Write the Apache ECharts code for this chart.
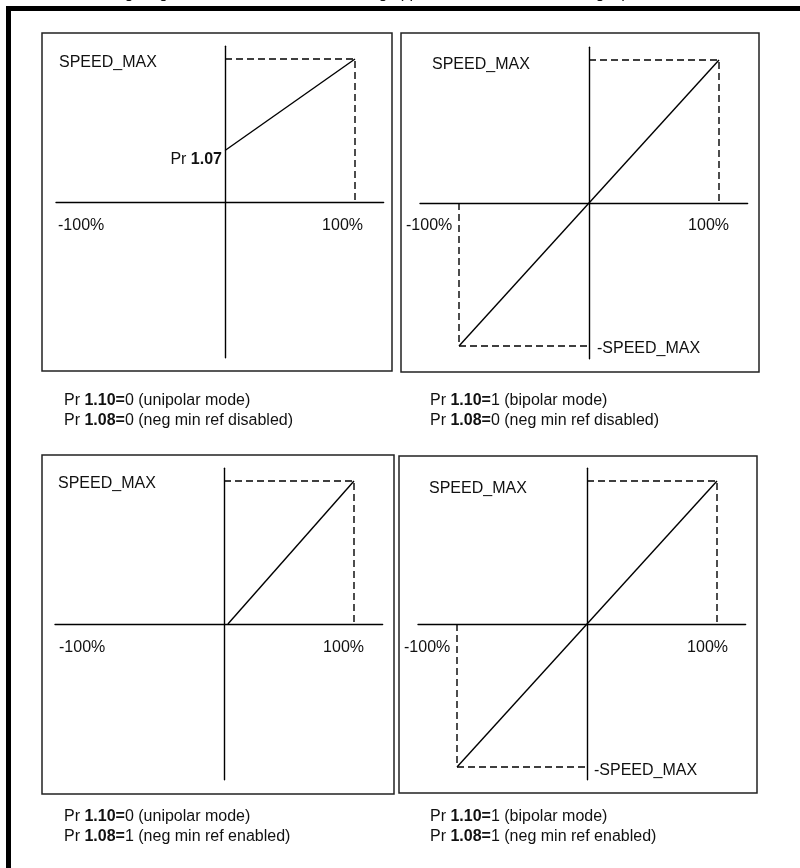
<!DOCTYPE html>
<html>
<head>
<meta charset="utf-8">
<script src="https://cdn.jsdelivr.net/npm/echarts@6/dist/echarts.min.js"></script>
<style>
html, body { margin: 0; padding: 0; background: #fff; }
#main { width: 800px; height: 868px; }
</style>
</head>
<body>
<div id="main"></div>
<script>
// reference lines, in fractions of 100% input / SPEED_MAX
var refUnipolarDisabled = [[0, 0.36], [1, 1]];
var refBipolarDisabled = [[-1, -1], [1, 1]];
var refUnipolarEnabled = [[0.03, 0], [1, 1]];
var refBipolarEnabled = [[-1, -1], [1, 1]];
var maxGuide = [[0, 1], [1, 1], [1, 0]];
var minGuide = [[-1, 0], [-1, -1], [0, -1]];

var xTickLabels = ['-100%', '100%'];
var yTickLabels = ['SPEED_MAX', '-SPEED_MAX'];
var minRefLabel = 'Pr {b|1.07}';
var captions = [
	['Pr {b|1.10=}0 (unipolar mode)', 'Pr {b|1.08=}0 (neg min ref disabled)'],
	['Pr {b|1.10=}1 (bipolar mode)', 'Pr {b|1.08=}0 (neg min ref disabled)'],
	['Pr {b|1.10=}0 (unipolar mode)', 'Pr {b|1.08=}1 (neg min ref enabled)'],
	['Pr {b|1.10=}1 (bipolar mode)', 'Pr {b|1.08=}1 (neg min ref enabled)']
];
var introText = 'The following diagrams show the effect of scaling applied when the drive analog input is used.';

var FONT = '"Liberation Sans", Arial, sans-serif';
var xUnit = 130, yUnit = 143;
var xMin = -1.3, xMax = 1.22, yMin = -1.09, yMax = 1.09;

// axis crossing point of each panel (pixels)
var origins = [[225, 202], [589, 203], [224, 624], [587, 624]];
var boxes = [[42, 33, 350, 338], [401, 33, 358, 339], [42, 455, 352, 339], [399, 456, 358, 337]];
var refs = [refUnipolarDisabled, refBipolarDisabled, refUnipolarEnabled, refBipolarEnabled];
var bipolar = [false, true, false, true];

var myChart = echarts.init(document.getElementById('main'), null, {renderer: 'canvas'});

var grids = [], xAxes = [], yAxes = [], series = [], graphics = [];

function txt(text, x, y, align, bold) {
	return {
		type: 'text',
		silent: true,
		style: {
			text: text, x: x, y: y,
			fontSize: 16, fontFamily: FONT,
			fontWeight: bold ? 'bold' : 'normal',
			fill: '#111',
			align: align || 'left', verticalAlign: 'middle',
			textAlign: align || 'left', textVerticalAlign: 'middle',
			rich: { b: { fontSize: 16, fontFamily: FONT, fontWeight: 'bold', fill: '#111' } }
		}
	};
}

origins.forEach(function(o, i) {
	grids.push({
		left: o[0] + xMin * xUnit,
		top: o[1] - yMax * yUnit,
		width: (xMax - xMin) * xUnit,
		height: (yMax - yMin) * yUnit
	});
	xAxes.push({
		gridIndex: i, type: 'value', min: xMin, max: xMax,
		axisLine: { show: true, onZero: true, lineStyle: { color: '#000', width: 1.4 } },
		axisTick: { show: false }, axisLabel: { show: false }, splitLine: { show: false }
	});
	yAxes.push({
		gridIndex: i, type: 'value', min: yMin, max: yMax,
		axisLine: { show: true, onZero: true, lineStyle: { color: '#000', width: 1.4 } },
		axisTick: { show: false }, axisLabel: { show: false }, splitLine: { show: false }
	});
	series.push({
		type: 'line', xAxisIndex: i, yAxisIndex: i, data: maxGuide,
		showSymbol: false, silent: true, z: 2,
		lineStyle: { color: '#000', width: 1.4, type: [7, 4] }
	});
	if (bipolar[i]) {
		series.push({
			type: 'line', xAxisIndex: i, yAxisIndex: i, data: minGuide,
			showSymbol: false, silent: true, z: 2,
			lineStyle: { color: '#000', width: 1.4, type: [7, 4] }
		});
	}
	series.push({
		type: 'line', xAxisIndex: i, yAxisIndex: i, data: refs[i],
		showSymbol: false, silent: true, z: 3,
		lineStyle: { color: '#000', width: 1.4 }
	});

	var b = boxes[i];
	graphics.push({
		type: 'rect', silent: true,
		shape: { x: b[0], y: b[1], width: b[2], height: b[3] },
		style: { fill: 'none', stroke: '#222', lineWidth: 1.5 }
	});
});

// panel texts
graphics.push(txt(yTickLabels[0], 59, 63));
graphics.push(txt(minRefLabel, 222, 160, 'right'));
graphics.push(txt(xTickLabels[0], 58, 226));
graphics.push(txt(xTickLabels[1], 363, 226, 'right'));

graphics.push(txt(yTickLabels[0], 432, 65));
graphics.push(txt(xTickLabels[0], 406, 226));
graphics.push(txt(xTickLabels[1], 729, 226, 'right'));
graphics.push(txt(yTickLabels[1], 597, 349));

graphics.push(txt(yTickLabels[0], 58, 484));
graphics.push(txt(xTickLabels[0], 59, 648));
graphics.push(txt(xTickLabels[1], 364, 648, 'right'));

graphics.push(txt(yTickLabels[0], 429, 489));
graphics.push(txt(xTickLabels[0], 404, 648));
graphics.push(txt(xTickLabels[1], 728, 648, 'right'));
graphics.push(txt(yTickLabels[1], 594, 771));

// captions under the panels
var capPos = [[64, 401], [430, 401], [64, 817], [430, 817]];
captions.forEach(function(c, i) {
	graphics.push(txt(c[0], capPos[i][0], capPos[i][1]));
	graphics.push(txt(c[1], capPos[i][0], capPos[i][1] + 20));
});

// page frame and cut off intro line
graphics.push({
	type: 'rect', silent: true,
	shape: { x: 8.5, y: 8.5, width: 900, height: 900 },
	style: { fill: 'none', stroke: '#000', lineWidth: 5 }
});
graphics.push(txt(introText, 39, -6));

var option = {
	animation: false,
	backgroundColor: '#fff',
	grid: grids,
	xAxis: xAxes,
	yAxis: yAxes,
	series: series,
	graphic: graphics
};

myChart.setOption(option, true);
</script>
</body>
</html>
